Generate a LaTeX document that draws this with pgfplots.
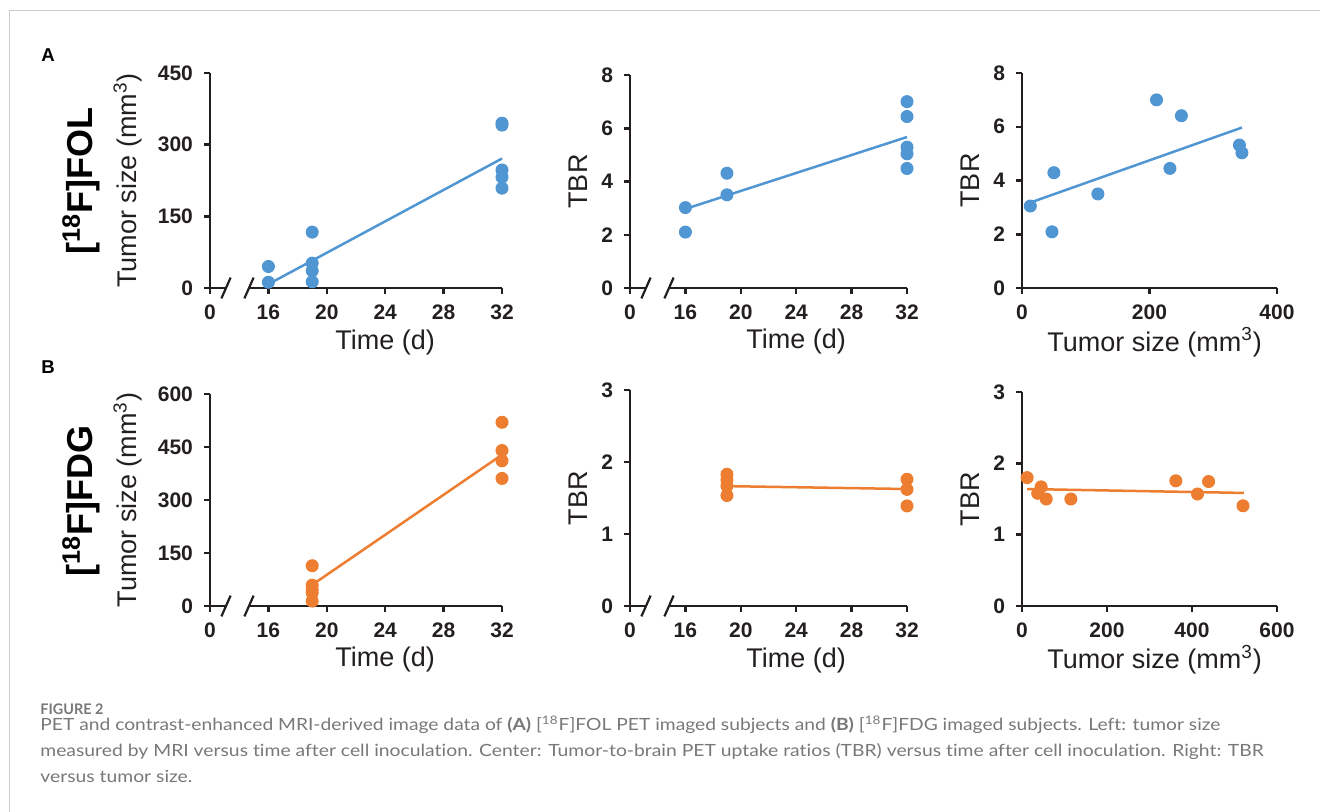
\documentclass[border=0pt]{standalone}
\usepackage{fontspec}
\setmainfont{Liberation Sans}
\newfontfamily\capfont[Ligatures=CommonOff]{Lato}
\usepackage{graphicx}
\usepackage{pgfplots}
\pgfplotsset{compat=1.18}
\definecolor{folc}{RGB}{80,150,210}
\definecolor{fdgc}{RGB}{237,125,49}
\definecolor{axc}{RGB}{35,31,32}
\definecolor{capc}{RGB}{120,120,120}
\definecolor{framec}{RGB}{205,205,205}

% 1 px of the reference = 0.5pt
\pgfplotsset{
  panel/.style={
    scale only axis, anchor=south west,
    axis lines*=left, enlargelimits=false, clip=false,
    tick align=outside, major tick length=3pt,
    axis line style={axc, line width=1.25pt},
    every tick/.style={axc, line width=1.25pt},
    tick label style={font=\bfseries\fontsize{10.5}{12}\selectfont, text=axc},
    /pgf/number format/assume math mode=true,
    y tick label style={xshift=-2pt},
    x tick label style={yshift=-2pt},
    every axis x label/.style={anchor=center, font=\fontsize{13.5}{16}\selectfont, text=axc},
    every axis y label/.style={rotate=90, anchor=center, font=\fontsize{13.5}{16}\selectfont, text=axc},
  },
  brokenx/.style={
    x coord trafo/.code={\pgfmathparse{(##1>10)?(##1-12):(##1)}},
    xmin=0, xmax=32, xtick={0,16,20,24,28,32}, xticklabels={0,16,20,24,28,32},
    x axis line style={draw=none},
    xlabel={Time (d)},
    xlabel style={at={(axis description cs:0.6,-0.252)}},
  },
  dots/.style={only marks, color=#1, mark=*, mark size=3pt,
    mark options={solid, draw=#1, fill=#1, line width=0.5pt}},
  fit/.style={#1, line width=1.25pt, no marks},
}
\newcommand\xbreak{%
  \draw[axc, line width=1.25pt] (axis cs:0,0) -- ++(8pt,0);
  \draw[axc, line width=1.25pt] (axis cs:0,0) ++(19.5pt,0) -- (axis cs:32,0);
  \draw[axc, line width=1.1pt] (axis cs:0,0) ++(8pt,0) ++(-2.3pt,-5.2pt) -- ++(4.6pt,10.4pt);
  \draw[axc, line width=1.1pt] (axis cs:0,0) ++(19.5pt,0) ++(-2.3pt,-5.2pt) -- ++(4.6pt,10.4pt);
}

\begin{document}
\begin{tikzpicture}
\useasboundingbox (0,0) rectangle (660pt,-406pt);
\draw[framec, line width=0.5pt] (4.75pt,-406pt) -- (4.75pt,-5.5pt) -- (660pt,-5.5pt);

\node[font=\bfseries\fontsize{9.3}{11}\selectfont, text=black] at (24pt,-27.5pt) {A};
\node[font=\bfseries\fontsize{9.3}{11}\selectfont, text=black] at (24pt,-183.5pt) {B};
\node[rotate=90, font=\bfseries\fontsize{18}{22}\selectfont, text=black] at (40.5pt,-90.5pt) {[\textsuperscript{18}F]FOL};
\node[rotate=90, font=\bfseries\fontsize{18}{22}\selectfont, text=black] at (40.5pt,-250.5pt) {[\textsuperscript{18}F]FDG};

% ---- A: [18F]FOL ----
\begin{axis}[panel, brokenx, at={(105pt,-144pt)}, width=146pt, height=107.5pt,
  ymin=0, ymax=450, ytick={0,150,300,450},
  ylabel={Tumor size (mm\textsuperscript{3})},
  ylabel style={at={(axis description cs:-0.281,0.5)}}]
  \xbreak
  \addplot[dots=folc] coordinates {(16,12) (16,45) (19,13) (19,36) (19,52) (19,117)
    (32,209) (32,232) (32,247) (32,341) (32,345)};
  \addplot[fit=folc] coordinates {(16,8) (32,271)};
\end{axis}

\begin{axis}[panel, brokenx, at={(315pt,-144pt)}, width=138.5pt, height=106.5pt,
  ymin=0, ymax=8, ytick={0,2,4,6,8},
  ylabel={TBR},
  ylabel style={at={(axis description cs:-0.188,0.5)}}]
  \xbreak
  \addplot[dots=folc] coordinates {(16,2.1) (16,3.02) (19,3.5) (19,4.31)
    (32,4.49) (32,5.04) (32,5.29) (32,6.44) (32,7.0)};
  \addplot[fit=folc] coordinates {(16,2.97) (32,5.67)};
\end{axis}

\begin{axis}[panel, at={(511pt,-144pt)}, width=127.5pt, height=107.5pt,
  xmin=0, xmax=400, xtick={0,200,400},
  ymin=0, ymax=8, ytick={0,2,4,6,8},
  xlabel={Tumor size (mm\textsuperscript{3})},
  xlabel style={at={(axis description cs:0.52,-0.252)}},
  ylabel={TBR},
  ylabel style={at={(axis description cs:-0.204,0.5)}}]
  \addplot[dots=folc] coordinates {(13,3.05) (47,2.09) (50,4.29) (119,3.5) (211,7.0)
    (232,4.45) (250,6.41) (341,5.32) (345,5.03)};
  \addplot[fit=folc] coordinates {(12,3.17) (345,5.97)};
\end{axis}

% ---- B: [18F]FDG ----
\begin{axis}[panel, brokenx, at={(105pt,-303pt)}, width=146pt, height=106pt,
  ymin=0, ymax=600, ytick={0,150,300,450,600},
  ylabel={Tumor size (mm\textsuperscript{3})},
  ylabel style={at={(axis description cs:-0.281,0.5)}}]
  \xbreak
  \addplot[dots=fdgc] coordinates {(19,14) (19,37) (19,45) (19,59) (19,114)
    (32,361) (32,411) (32,440) (32,520)};
  \addplot[fit=fdgc] coordinates {(19,60) (32,428)};
\end{axis}

\begin{axis}[panel, brokenx, at={(315pt,-303pt)}, width=138.5pt, height=108pt,
  ymin=0, ymax=3, ytick={0,1,2,3},
  ylabel={TBR},
  ylabel style={at={(axis description cs:-0.188,0.5)}}]
  \xbreak
  \addplot[dots=fdgc] coordinates {(19,1.535) (19,1.665) (19,1.75) (19,1.83)
    (32,1.39) (32,1.62) (32,1.76)};
  \addplot[fit=fdgc] coordinates {(19,1.665) (32,1.625)};
\end{axis}

\begin{axis}[panel, at={(511pt,-303pt)}, width=127.5pt, height=107pt,
  xmin=0, xmax=600, xtick={0,200,400,600},
  ymin=0, ymax=3, ytick={0,1,2,3},
  xlabel={Tumor size (mm\textsuperscript{3})},
  xlabel style={at={(axis description cs:0.52,-0.252)}},
  ylabel={TBR},
  ylabel style={at={(axis description cs:-0.204,0.5)}}]
  \addplot[dots=fdgc] coordinates {(12,1.80) (37,1.58) (45,1.67) (57,1.50) (115,1.50)
    (362,1.755) (413,1.57) (439,1.745) (520,1.405)};
  \addplot[fit=fdgc] coordinates {(12,1.64) (522,1.585)};
\end{axis}

% ---- caption ----
\begin{scope}[every node/.style={anchor=base west, text=capc, inner sep=0pt, font=\capfont\fontsize{8.4}{10}\selectfont}]
\node[font=\capfont\bfseries\fontsize{7.3}{8}\selectfont] at (20pt,-357pt) {\resizebox{31.5pt}{\height}{FIGURE 2}};
\node at (20pt,-365pt) {\resizebox{590pt}{\height}{PET and contrast-enhanced MRI-derived image data of \textbf{(A)} [\textsuperscript{18}F]FOL PET imaged subjects and \textbf{(B)} [\textsuperscript{18}F]FDG imaged subjects. Left: tumor size}};
\node at (20pt,-378pt) {\resizebox{611.5pt}{\height}{measured by MRI versus time after cell inoculation. Center: Tumor-to-brain PET uptake ratios (TBR) versus time after cell inoculation. Right: TBR}};
\node at (20pt,-391pt) {\resizebox{76pt}{\height}{versus tumor size.}};
\end{scope}
\end{tikzpicture}
\end{document}
